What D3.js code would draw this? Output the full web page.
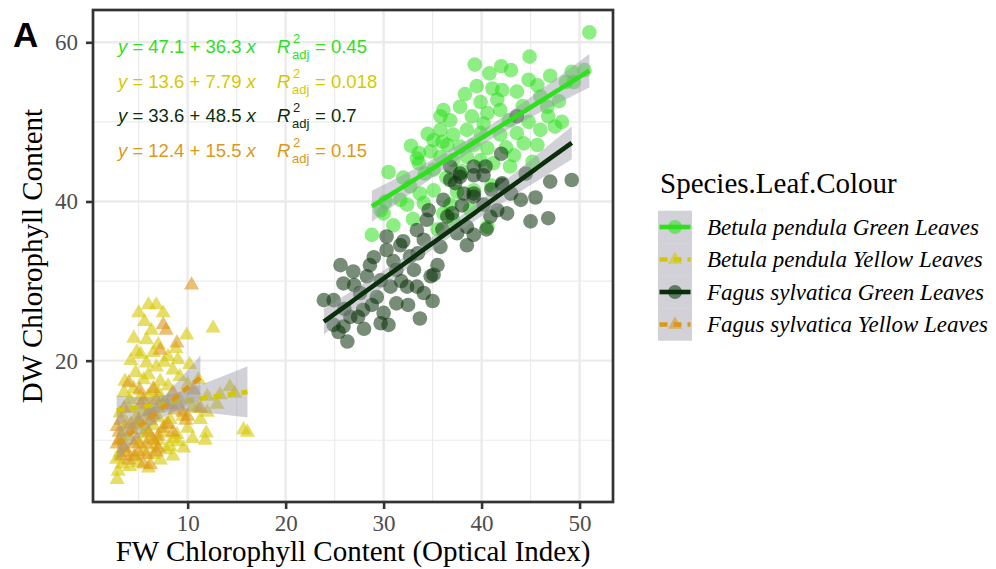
<!DOCTYPE html>
<html>
<head>
<meta charset="utf-8">
<script src="https://cdn.jsdelivr.net/npm/d3@7"></script>
<style>
  html, body { margin: 0; padding: 0; background: #ffffff; }
  svg { display: block; }
</style>
</head>
<body>
<svg id="chart" width="996" height="569"></svg>
<script>
// ---- data: FW optical index (x) vs DW chlorophyll content (y) ----
const speciesLabels = [
  "Betula pendula Green Leaves",
  "Betula pendula Yellow Leaves",
  "Fagus sylvatica Green Leaves",
  "Fagus sylvatica Yellow Leaves"
];

const betulaGreen = [
  [51.0,61.25],[39.3,57.2],[44.9,58.2],[40.8,56.1],[44.8,55.3],[45.7,54.6],[49.2,56.3],[49.4,55.0],
  [41.1,54.2],[42.1,54.0],[43.6,53.8],[39.9,52.5],[41.6,52.8],[36.1,51.5],[37.8,51.9],[39.0,50.7],
  [40.6,51.1],[41.9,51.5],[35.8,50.7],[36.8,50.2],[46.0,53.2],[46.7,51.9],[46.8,50.7],[47.5,49.4],
  [46.0,49.0],[35.8,49.0],[37.1,48.4],[38.5,49.0],[39.9,48.6],[41.9,48.4],[35.1,47.7],[36.5,47.1],
  [37.8,46.9],[39.2,47.1],[40.6,46.7],[43.6,48.6],[44.3,47.3],[45.7,47.1],[43.3,45.8],[33.6,46.1],
  [34.8,46.3],[35.8,45.6],[37.1,45.2],[38.5,45.6],[39.9,45.2],[41.2,44.8],[42.9,44.4],[30.5,43.7],
  [33.6,44.8],[35.1,44.0],[32.7,41.9],[31.7,40.2],[33.7,41.0],[33.4,45.4],[28.8,35.8],[29.7,38.9],
  [32.4,39.6],[34.1,39.8],[36.1,38.5],[36.8,39.6],[37.1,37.7],[35.1,41.4],[40.6,36.8],[39.2,41.4],
  [50.5,56.5],[48.6,55.0],[42.8,50.2],[38.3,53.5],[44.2,52.0],[40.2,49.8],[36.4,43.0],[34.2,43.5],
  [38.0,43.8],[32.0,43.0],[31.0,37.0],[30.2,40.0],[42.5,46.8],[44.8,50.0],[47.9,52.6],[48.2,50.0],
  [37.5,41.2],[36.0,47.5],[39.5,54.5],[43.0,56.5],[38.8,39.0],[33.0,37.8],[45.2,45.0],[41.0,42.0],
  [34.5,48.5],[42.0,57.0],[30.0,38.5],[47.0,55.8],[35.5,36.5],[32.8,47.0]
];

const betulaYellow = [
  [6.0,27.0],[6.8,27.0],[12.6,24.1],[5.6,24.9],[9.9,23.2],[4.5,22.8],[5.8,22.6],[4.8,21.1],
  [8.0,20.5],[9.0,20.1],[5.8,19.7],[6.8,19.2],[8.5,18.8],[3.6,17.4],[5.5,17.6],[7.2,17.4],
  [9.2,18.0],[14.3,16.7],[12.0,15.5],[4.1,15.1],[6.2,14.2],[9.2,15.1],[3.1,13.4],[4.8,13.0],
  [8.2,12.6],[11.3,12.6],[12.0,13.5],[15.7,11.3],[5.8,11.3],[7.5,10.9],[8.9,10.7],[11.8,10.0],
  [11.9,10.9],[3.4,10.0],[5.1,9.6],[6.7,9.4],[8.2,9.2],[9.6,9.0],[3.1,8.4],[4.5,7.9],
  [7.2,7.5],[2.9,6.1],[2.8,5.05],[4.1,6.7],[5.0,26.0],[7.5,26.0],[6.3,23.8],[7.0,22.0],
  [8.8,21.5],[4.2,20.0],[7.6,19.8],[10.2,19.5],[6.0,18.2],[4.7,18.5],[8.0,16.8],[10.0,17.0],
  [6.5,16.2],[3.5,16.0],[5.2,15.5],[7.3,15.0],[10.5,14.2],[13.0,14.5],[6.0,13.0],[7.0,12.8],
  [9.5,13.0],[3.8,12.0],[5.0,12.2],[6.5,11.8],[10.0,11.5],[13.3,15.7],[4.0,10.5],[7.0,10.0],
  [9.0,9.8],[10.5,10.2],[5.5,8.6],[6.5,8.2],[8.5,8.0],[3.5,9.0],[5.0,7.2],[6.0,6.5],
  [3.3,7.0],[7.8,8.8],[11.0,14.0],[14.8,15.9],[11.1,17.6],[2.75,7.6],[16.1,11.0],
  [4.0,14.0],[5.5,13.8],[7.0,14.0],[8.0,14.8],[4.5,16.5],[6.0,15.5],[7.8,12.0],[6.2,10.2],
  [4.8,11.8],[3.5,11.0],[5.5,10.8],[8.5,10.2],[7.0,16.0],[5.2,20.8],[6.5,21.0]
];

const fagusGreen = [
  [23.9,27.6],[25.6,32.0],[26.9,31.2],[25.9,29.7],[24.9,24.5],[25.9,24.3],[26.3,22.4],[26.6,25.5],
  [27.6,28.5],[28.3,30.6],[28.6,32.0],[29.7,30.1],[30.0,26.0],[27.9,26.4],[29.3,28.0],[30.3,35.6],
  [30.3,33.9],[31.7,34.5],[31.3,31.4],[30.7,29.3],[31.3,27.2],[32.7,33.1],[33.1,31.4],[32.4,29.3],
  [33.4,29.3],[34.1,28.5],[33.7,25.3],[34.8,30.6],[35.1,30.8],[33.4,36.4],[34.1,35.2],[34.4,37.7],
  [34.6,38.9],[36.1,40.2],[36.5,38.1],[35.8,34.3],[36.8,42.7],[37.8,43.1],[39.2,43.3],[40.2,43.3],
  [38.2,41.0],[39.2,40.6],[38.5,36.8],[37.5,36.0],[39.2,35.8],[40.9,38.1],[41.6,38.9],[42.6,38.5],
  [44.0,40.2],[45.0,37.5],[46.8,37.9],[49.2,42.7],[42.1,42.1],[40.2,39.6],[24.9,27.6],[27.4,25.5],
  [29.7,24.7],[25.4,23.6],[43.6,50.7],[36.8,44.4],[37.8,43.5],[39.2,44.4],[40.4,44.4],[37.3,42.3],
  [39.2,41.0],[42.1,42.3],[26.0,26.5],[28.0,24.0],[27.0,29.5],[29.0,33.0],[31.0,32.5],[32.0,35.0],
  [30.5,24.5],[32.5,27.0],[35.5,32.0],[36.0,36.5],[37.0,38.5],[38.0,39.5],[41.0,41.5],[43.0,41.0],
  [44.5,43.5],[35.0,27.5],[31.8,30.0],[28.8,27.0],[33.5,33.5],[40.5,36.5],[38.5,34.5],[42.0,46.0],
  [45.5,40.5],[47.0,42.5]
];

const fagusYellow = [
  [10.4,29.5],[7.5,24.5],[8.9,22.2],[7.2,21.3],[5.1,16.3],[10.6,16.3],[7.9,14.4],[6.5,13.2],
  [2.8,11.7],[4.3,11.3],[5.8,8.2],[6.2,6.9],[4.0,17.2],[6.0,13.5],[7.8,23.8],[8.5,16.0],
  [3.5,14.0],[5.0,12.5],[6.8,8.5],[3.2,8.0],[8.7,13.8],[9.5,13.5],[5.5,15.0],[7.0,10.5],
  [4.5,9.5],[6.0,11.0],[8.0,12.0],[9.0,14.5],[3.0,10.0],[5.2,14.5],[6.5,16.5],[7.5,14.5],
  [10.0,13.0],[4.0,7.5],[5.5,7.0],[9.8,12.5],[6.8,15.0],[3.5,9.0],[4.8,10.0],[5.8,9.5],
  [6.5,10.0],[7.5,11.5],[4.2,12.0],[3.0,11.0],[5.0,8.5],[6.2,12.5],[8.5,11.0],[2.8,9.5],
  [7.0,9.0],[11.3,14.0],[3.8,8.5],[4.6,8.0],[3.2,12.5]
];

// regression label text per group
const eqIntercepts = ["47.1", "13.6", "33.6", "12.4"];
const eqSlopes = ["36.3", "7.79", "48.5", "15.5"];
const eqR2 = ["0.45", "0.018", "0.7", "0.15"];

const xTicks = [10, 20, 30, 40, 50];
const xMinor = [5, 15, 25, 35, 45];
const yTicks = [20, 40, 60];
const yMinor = [10, 30, 50];

const colours = ["#2ee01e", "#d6c800", "#0a2f0a", "#dc9818"];
const shapes = ["circle", "triangle", "circle", "triangle"];
const dashes = [null, "8,6", null, "8,6"];

const groups = [betulaGreen, betulaYellow, fagusGreen, fagusYellow].map((pts, i) => ({
  name: speciesLabels[i], pts, colour: colours[i], shape: shapes[i], dash: dashes[i]
}));

// ---- layout ----
const svg = d3.select("#chart");
const P = { left: 93, right: 613, top: 10, bottom: 502 };
const serif = "'Liberation Serif', 'Times New Roman', serif";
const sans = "'Liberation Sans', Arial, sans-serif";

const allPts = groups.flatMap(g => g.pts);
const xe = d3.extent(allPts, d => d[0]), ye = d3.extent(allPts, d => d[1]);
const xp = (xe[1] - xe[0]) * 0.05, yp = (ye[1] - ye[0]) * 0.05;
const x = d3.scaleLinear().domain([xe[0] - xp, xe[1] + xp]).range([P.left, P.right]);
const y = d3.scaleLinear().domain([ye[0] - yp, ye[1] + yp]).range([P.bottom, P.top]);

// panel background + grid
svg.append("rect").attr("x", P.left).attr("y", P.top)
  .attr("width", P.right - P.left).attr("height", P.bottom - P.top).attr("fill", "#ffffff");
const grid = svg.append("g");
grid.selectAll(".xmin").data(xMinor).join("line")
  .attr("x1", d => x(d)).attr("x2", d => x(d)).attr("y1", P.top).attr("y2", P.bottom)
  .attr("stroke", "#ebebeb").attr("stroke-width", 1.2);
grid.selectAll(".ymin").data(yMinor).join("line")
  .attr("y1", d => y(d)).attr("y2", d => y(d)).attr("x1", P.left).attr("x2", P.right)
  .attr("stroke", "#ebebeb").attr("stroke-width", 1.2);
grid.selectAll(".xmaj").data(xTicks).join("line")
  .attr("x1", d => x(d)).attr("x2", d => x(d)).attr("y1", P.top).attr("y2", P.bottom)
  .attr("stroke", "#ebebeb").attr("stroke-width", 2.4);
grid.selectAll(".ymaj").data(yTicks).join("line")
  .attr("y1", d => y(d)).attr("y2", d => y(d)).attr("x1", P.left).attr("x2", P.right)
  .attr("stroke", "#ebebeb").attr("stroke-width", 2.4);

// points
const triangle = d3.symbol().type(d3.symbolTriangle).size(100);
const ptLayer = svg.append("g");
groups.forEach(g => {
  const sel = ptLayer.append("g").selectAll("path").data(g.pts).join("path")
    .attr("fill", g.colour).attr("fill-opacity", g.shape === "circle" ? 0.55 : 0.6);
  if (g.shape === "circle") {
    sel.attr("d", d3.symbol().type(d3.symbolCircle).size(Math.PI * 7.3 * 7.3)())
      .attr("transform", d => `translate(${x(d[0])},${y(d[1])})`);
  } else {
    sel.attr("d", triangle()).attr("transform", d => `translate(${x(d[0])},${y(d[1])})`);
  }
});

// least-squares fit with 95% confidence band
function tQuantile(df) {
  const z = 1.959964;
  return z + (z ** 3 + z) / (4 * df) + (5 * z ** 5 + 16 * z ** 3 + 3 * z) / (96 * df * df);
}
function lmFit(pts) {
  const n = pts.length;
  const mx = d3.mean(pts, d => d[0]), my = d3.mean(pts, d => d[1]);
  let sxx = 0, sxy = 0;
  for (const [px, py] of pts) { sxx += (px - mx) ** 2; sxy += (px - mx) * (py - my); }
  const b = sxy / sxx, a = my - b * mx;
  const s = Math.sqrt(d3.sum(pts, ([px, py]) => (py - a - b * px) ** 2) / (n - 2));
  const t = tQuantile(n - 2);
  const [x0, x1] = d3.extent(pts, d => d[0]);
  return d3.range(80).map(i => {
    const xv = x0 + (x1 - x0) * i / 79;
    const yh = a + b * xv;
    const se = s * Math.sqrt(1 / n + (xv - mx) ** 2 / sxx);
    return { x: xv, y: yh, lo: yh - t * se, hi: yh + t * se };
  });
}

const band = d3.area().x(d => x(d.x)).y0(d => y(d.lo)).y1(d => y(d.hi));
const fitLine = d3.line().x(d => x(d.x)).y(d => y(d.y));
const smoothLayer = svg.append("g");
groups.forEach(g => {
  const f = lmFit(g.pts);
  smoothLayer.append("path").attr("d", band(f))
    .attr("fill", "#9a9aa6").attr("fill-opacity", 0.45);
  smoothLayer.append("path").attr("d", fitLine(f))
    .attr("fill", "none").attr("stroke", g.colour).attr("stroke-width", 4.6)
    .attr("stroke-dasharray", g.dash);
});

// regression equations
const eqLayer = svg.append("g").attr("font-family", sans);
groups.forEach((g, i) => {
  const base = 53 + i * 34.7;
  const t = eqLayer.append("text").attr("x", 118).attr("y", base)
    .attr("font-size", 18.5).attr("fill", g.colour).attr("xml:space", "preserve");
  t.append("tspan").attr("font-style", "italic").text("y");
  t.append("tspan").text(` = ${eqIntercepts[i]} + ${eqSlopes[i]} `);
  t.append("tspan").attr("font-style", "italic").text("x");
  eqLayer.append("text").attr("x", 277).attr("y", base).attr("font-size", 18.5)
    .attr("font-style", "italic").attr("fill", g.colour).text("R");
  eqLayer.append("text").attr("x", 293).attr("y", base - 10).attr("font-size", 13)
    .attr("fill", g.colour).text("2");
  eqLayer.append("text").attr("x", 292).attr("y", base + 6).attr("font-size", 13)
    .attr("fill", g.colour).text("adj");
  eqLayer.append("text").attr("x", 315).attr("y", base).attr("font-size", 18.5)
    .attr("fill", g.colour).text(`= ${eqR2[i]}`);
});

// panel border
svg.append("rect").attr("x", P.left).attr("y", P.top)
  .attr("width", P.right - P.left).attr("height", P.bottom - P.top)
  .attr("fill", "none").attr("stroke", "#333333").attr("stroke-width", 2.7);

// axes
function styleAxis(g) {
  g.select(".domain").remove();
  g.selectAll(".tick line").attr("stroke", "#333333").attr("stroke-width", 2.6);
  g.selectAll(".tick text").attr("fill", "#4d4d4d").attr("font-size", 23).attr("font-family", serif);
}
svg.append("g").attr("transform", `translate(0,${P.bottom})`)
  .call(d3.axisBottom(x).tickValues(xTicks).tickSize(7).tickPadding(6).tickFormat(d3.format("d")))
  .call(styleAxis);
svg.append("g").attr("transform", `translate(${P.left},0)`)
  .call(d3.axisLeft(y).tickValues(yTicks).tickSize(7).tickPadding(8).tickFormat(d3.format("d")))
  .call(styleAxis);

// axis titles
svg.append("text").attr("x", (P.left + P.right) / 2).attr("y", 561)
  .attr("text-anchor", "middle").attr("font-family", serif).attr("font-size", 29)
  .attr("fill", "#000").text("FW Chlorophyll Content (Optical Index)");
svg.append("text").attr("transform", `translate(42,${(P.top + P.bottom) / 2}) rotate(-90)`)
  .attr("text-anchor", "middle").attr("font-family", serif).attr("font-size", 29)
  .attr("fill", "#000").text("DW Chlorophyll Content");

// panel tag
svg.append("text").attr("x", 13).attr("y", 47).attr("font-family", sans)
  .attr("font-weight", "bold").attr("font-size", 35).attr("fill", "#000").text("A");

// legend
const legend = svg.append("g");
legend.append("text").attr("x", 660).attr("y", 193).attr("font-family", serif)
  .attr("font-size", 29).attr("fill", "#000").text("Species.Leaf.Colour");
const keyX = 658, keyW = 34, keyH = 32.5, keyTop = 210.75;
groups.forEach((g, i) => {
  const cy = keyTop + keyH * (i + 0.5);
  legend.append("rect").attr("x", keyX).attr("y", keyTop + keyH * i)
    .attr("width", keyW).attr("height", keyH).attr("fill", "#9a9aa6").attr("fill-opacity", 0.45);
  legend.append("line").attr("x1", keyX + 1.5).attr("x2", keyX + keyW - 1.5)
    .attr("y1", cy).attr("y2", cy).attr("stroke", g.colour).attr("stroke-width", 4.6)
    .attr("stroke-dasharray", g.dash);
  const sym = g.shape === "circle"
    ? d3.symbol().type(d3.symbolCircle).size(Math.PI * 7 * 7)()
    : d3.symbol().type(d3.symbolTriangle).size(90)();
  legend.append("path").attr("d", sym).attr("transform", `translate(${keyX + keyW / 2},${cy})`)
    .attr("fill", g.colour).attr("fill-opacity", 0.55);
  legend.append("text").attr("x", 707).attr("y", cy + 7.5).attr("font-family", serif)
    .attr("font-style", "italic").attr("font-size", 23).attr("fill", "#000").text(g.name);
});
</script>
</body>
</html>
